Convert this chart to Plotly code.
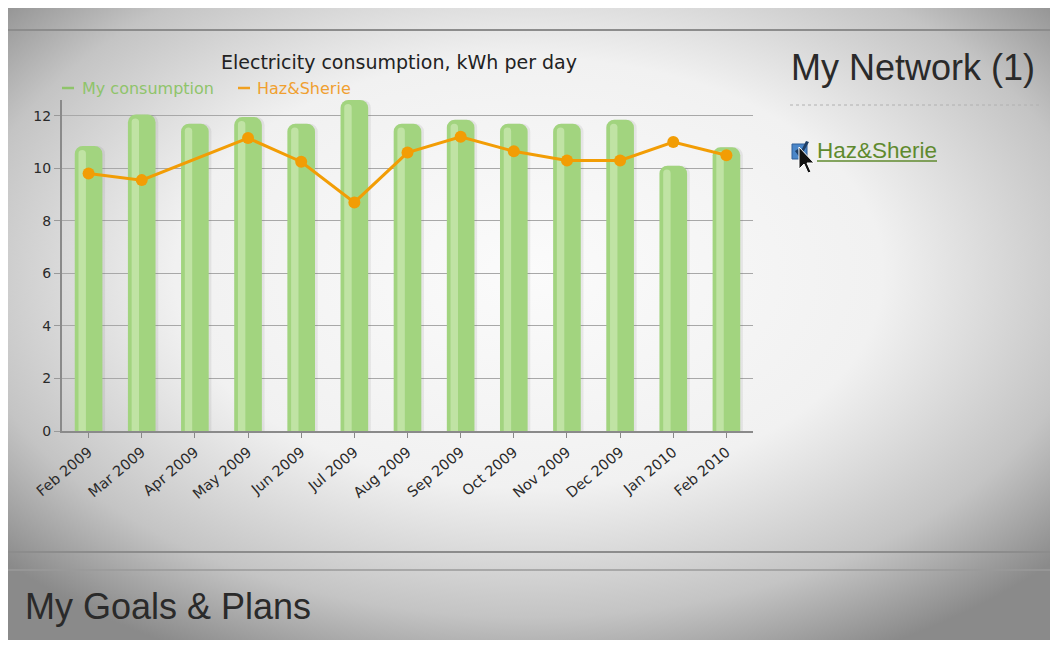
import base64
import plotly.graph_objs as go

# Datos del grafico
meses = ['Feb 2009', 'Mar 2009', 'Apr 2009', 'May 2009', 'Jun 2009', 'Jul 2009',
         'Aug 2009', 'Sep 2009', 'Oct 2009', 'Nov 2009', 'Dec 2009', 'Jan 2010', 'Feb 2010']
my_consumption = [10.85, 12.05, 11.7, 11.95, 11.7, 12.6, 11.7, 11.85, 11.7, 11.7, 11.85, 10.1, 10.8]
haz_sherie = [9.8, 9.55, None, 11.15, 10.25, 8.7, 10.6, 11.2, 10.65, 10.3, 10.3, 11.0, 10.5]
y_ticks = [0, 2, 4, 6, 8, 10, 12]

OFF = 8  # margen del body de la pagina
W, H = 1058 - OFF, 645 - OFF
L, R, T, B = 62, 753, 100, 431  # area del grafico en pixeles de pantalla


def px(x):
    return (x - L) / (R - L)


def py(y):
    return (B - y) / (B - T)


def path(points):
    # convierte puntos de pantalla a un path en coordenadas paper
    return 'M ' + ' L '.join(f'{px(x):.5f},{py(y):.5f}' for x, y in points) + ' Z'


# Fondo con vineta (imagen svg)
svg = """<svg xmlns='http://www.w3.org/2000/svg' width='1042' height='633'>
<defs><radialGradient id='g' cx='50%' cy='42%' r='68%'>
<stop offset='0' stop-color='#fbfbfb'/><stop offset='0.5' stop-color='#f1f1f1'/>
<stop offset='0.8' stop-color='#c4c4c4'/><stop offset='1' stop-color='#8a8a8a'/>
</radialGradient></defs><rect width='1042' height='633' fill='url(#g)'/></svg>"""
bg_src = 'data:image/svg+xml;base64,' + base64.b64encode(svg.encode()).decode()

fig = go.Figure()

# Sombra de las barras
fig.add_trace(go.Bar(
    x=meses, y=my_consumption, width=0.56, offset=-0.25,
    marker=dict(color='rgba(90,90,90,0.10)', cornerradius=8, line=dict(width=0)),
    hoverinfo='skip', showlegend=False
))

# Barras principales
fig.add_trace(go.Bar(
    x=meses, y=my_consumption, width=0.52, offset=-0.26,
    marker=dict(color='#a2d47f', cornerradius=8, line=dict(width=0)),
    name='My consumption', showlegend=False
))

# Brillo de las barras
fig.add_trace(go.Bar(
    x=meses, y=[v - 0.15 for v in my_consumption], width=0.14, offset=-0.19,
    marker=dict(color='rgba(222,242,202,0.5)', cornerradius=4, line=dict(width=0)),
    hoverinfo='skip', showlegend=False
))

# Linea de Haz&Sherie
fig.add_trace(go.Scatter(
    x=meses, y=haz_sherie, mode='lines+markers', connectgaps=True,
    line=dict(color='#f29d05', width=3),
    marker=dict(color='#f29d05', size=12),
    name='Haz&Sherie', showlegend=False
))


def hline(y, x0, x1, color, width, dash='solid'):
    return dict(type='line', xref='paper', yref='paper', x0=px(x0), x1=px(x1), y0=py(y), y1=py(y),
                line=dict(color=color, width=width, dash=dash))


def label(text, x, y, size, color, family='DejaVu Sans', xanchor='left'):
    return dict(text=text, x=px(x), y=py(y), xref='paper', yref='paper', xanchor=xanchor,
                yanchor='middle', showarrow=False, font=dict(family=family, size=size, color=color))


shapes = [
    # lineas de la pagina
    hline(30, 8, 1058, '#8c8c8c', 2),
    hline(552, 8, 1058, '#8c8c8c', 2),
    hline(570, 8, 1058, '#9a9a9a', 1.5),
    hline(105, 790, 1040, '#b0b0b0', 1, 'dot'),
    # leyenda
    hline(88, 62, 74, '#8fc46a', 2.5),
    hline(88, 238, 250, '#f0a020', 2.5),
    # casilla
    dict(type='rect', xref='paper', yref='paper', x0=px(792), x1=px(807), y0=py(159), y1=py(144),
         fillcolor='#4a86c8', line=dict(color='#2f5f99', width=1)),
    dict(type='path', xref='paper', yref='paper',
         path=path([(795, 151), (798, 149), (800, 153), (806, 141), (809, 142), (800, 158)]),
         fillcolor='#1f3f66', line=dict(width=0)),
    # puntero del raton
    dict(type='path', xref='paper', yref='paper',
         path=path([(799, 147), (799, 169), (804, 164), (808, 173), (811, 172), (807, 163), (814, 163)]),
         fillcolor='#111111', line=dict(color='#ffffff', width=1)),
    # subrayado del enlace
    hline(161, 817, 937, '#5f8a2e', 1.5),
]

annotations = [
    label('Electricity consumption, kWh per day', 399, 62, 19, '#222222', xanchor='center'),
    label('My consumption', 80, 88, 16, '#8fc46a'),
    label('Haz&amp;Sherie', 255, 88, 16, '#f0a030'),
    label('My Network (1)', 789, 68, 36, '#2a2a2a', family='Liberation Sans'),
    label('Haz&amp;Sherie', 815, 150, 22.5, '#5f8a2e', family='Liberation Sans'),
    label('My Goals &amp; Plans', 23, 606, 36, '#2a2a2a', family='Liberation Sans'),
]

fig.update_layout(
    width=W, height=H,
    margin=dict(l=L - OFF, r=W - (R - OFF), t=T - OFF, b=H - (B - OFF), pad=0),
    paper_bgcolor='white',
    plot_bgcolor='rgba(0,0,0,0)',
    barmode='overlay',
    showlegend=False,
    font=dict(family='DejaVu Sans', size=13, color='#333333'),
    images=[dict(source=bg_src, xref='paper', yref='paper', x=px(8), y=py(7),
                 sizex=px(1050) - px(8), sizey=py(7) - py(640), sizing='stretch',
                 xanchor='left', yanchor='top', layer='below')],
    shapes=shapes,
    annotations=annotations,
    xaxis=dict(
        type='category', categoryorder='array', categoryarray=meses,
        tickangle=-40, ticks='outside', ticklen=5, tickcolor='#888888',
        showline=True, linecolor='#8a8a8a', linewidth=2, showgrid=False,
        tickfont=dict(size=14.5, color='#2a2a2a'), range=[-0.5, 12.5]
    ),
    yaxis=dict(
        range=[0, 12.6], tickvals=y_ticks, ticks='outside', ticklen=6, tickcolor='#999999',
        showline=True, linecolor='#8a8a8a', linewidth=2,
        showgrid=True, gridcolor='#a8a8a8', gridwidth=1,
        tickfont=dict(size=14, color='#2a2a2a'), zeroline=False
    ),
)

fig.write_html('out.html')
